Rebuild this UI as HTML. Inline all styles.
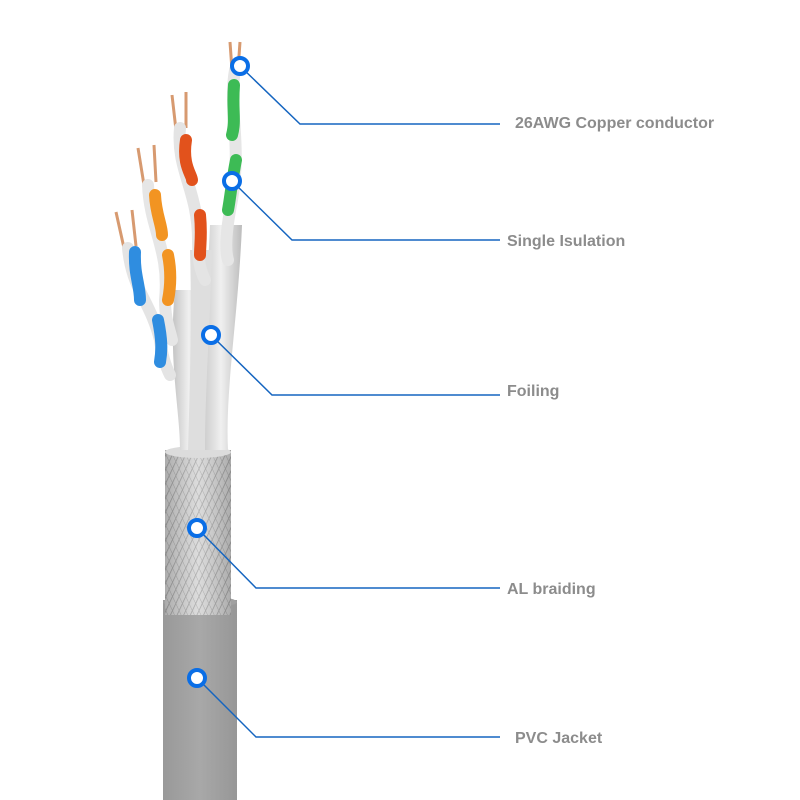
<!DOCTYPE html>
<html><head><meta charset="utf-8"><style>
html,body{margin:0;padding:0;background:#fff;width:800px;height:800px;overflow:hidden}
text{font-family:"Liberation Sans",sans-serif;font-weight:bold;font-size:16px;fill:#8c8c8c}
</style></head><body>
<svg width="800" height="800" viewBox="0 0 800 800" xmlns="http://www.w3.org/2000/svg">
<defs>
<pattern id="br" width="6" height="6" patternUnits="userSpaceOnUse" patternTransform="rotate(25)">
<rect width="6" height="6" fill="#d6d6d6"/><line x1="0" y1="0" x2="0" y2="6" stroke="#9c9c9c" stroke-width="1.5"/></pattern>
<pattern id="br2" width="6" height="6" patternUnits="userSpaceOnUse" patternTransform="rotate(-25)">
<line x1="0" y1="0" x2="0" y2="6" stroke="#a8a8a8" stroke-width="1"/></pattern>
<linearGradient id="jk" x1="0" x2="1"><stop offset="0" stop-color="#999"/><stop offset="0.5" stop-color="#a8a8a8"/><stop offset="1" stop-color="#979797"/></linearGradient>
<linearGradient id="sh" x1="0" x2="1"><stop offset="0" stop-color="#000" stop-opacity="0.2"/><stop offset="0.5" stop-color="#fff" stop-opacity="0.15"/><stop offset="1" stop-color="#000" stop-opacity="0.2"/></linearGradient>
<linearGradient id="fo" x1="0" x2="1"><stop offset="0" stop-color="#c4c4c4"/><stop offset="0.5" stop-color="#f0f0f0"/><stop offset="1" stop-color="#bcbcbc"/></linearGradient>
</defs>
<rect x="163" y="600" width="74" height="200" fill="url(#jk)"/>
<ellipse cx="200" cy="602" rx="37" ry="6" fill="#a0a0a0"/>
<rect x="165" y="450" width="66" height="165" fill="url(#br)"/>
<rect x="165" y="450" width="66" height="165" fill="url(#br2)"/>
<rect x="165" y="450" width="66" height="165" fill="url(#sh)"/>
<ellipse cx="198" cy="452" rx="33" ry="6" fill="#dcdcdc"/>
<path d="M175 290 C168 360,180 410,180 450 L205 450 C205 400,195 350,198 290Z" fill="url(#fo)"/>
<path d="M210 225 L242 225 C238 320,225 390,228 450 L200 450 C200 380,206 320,210 225Z" fill="url(#fo)"/>
<path d="M190 250 L212 250 C210 330,205 390,205 450 L188 450 C190 380,192 320,190 250Z" fill="#dedede"/>
<g stroke="#d79a70" stroke-width="3" fill="none">
<path d="M230 42 L232 70 M240 42 L238 70"/>
<path d="M172 95 L176 130 M186 92 L186 128"/>
<path d="M138 148 L144 185 M154 145 L156 182"/>
<path d="M116 212 L124 248 M132 210 L136 246"/>
</g>
<g fill="none" stroke-linecap="round" stroke-width="12">
<path d="M235 70 C228 110,242 140,232 200 C226 230,225 250,228 260" stroke="#e6e6e6"/>
<path d="M234 85 C232 110,236 120,232 135 M236 160 C232 180,230 200,228 210" stroke="#3dbb55"/>
<path d="M180 128 C176 170,198 190,198 240 C198 260,200 270,205 280" stroke="#e4e4e4"/>
<path d="M186 140 C182 165,192 175,192 180 M200 215 C202 235,200 245,200 255" stroke="#e2521c"/>
<path d="M148 185 C150 230,170 250,165 300 C165 320,170 330,172 340" stroke="#e6e6e6"/>
<path d="M155 195 C156 215,162 225,162 235 M168 255 C172 275,170 290,168 300" stroke="#f29422"/>
<path d="M128 248 C132 290,150 300,160 340 C162 355,165 365,170 375" stroke="#e4e4e4"/>
<path d="M135 252 C134 275,140 285,140 300 M158 320 C162 340,162 350,160 362" stroke="#2f8de0"/>
</g>
<g stroke="#1565c0" stroke-width="1.5" fill="none">
<path d="M240 66 L300 124 L500 124"/>
<path d="M232 181 L292 240 L500 240"/>
<path d="M211 335 L272 395 L500 395"/>
<path d="M197 528 L256 588 L500 588"/>
<path d="M197 678 L256 737 L500 737"/>
</g>
<g fill="#fff" stroke="#0a6ee6" stroke-width="4">
<circle cx="240" cy="66" r="8"/><circle cx="232" cy="181" r="8"/><circle cx="211" cy="335" r="8"/>
<circle cx="197" cy="528" r="8"/><circle cx="197" cy="678" r="8"/>
</g>
<text x="515" y="128">26AWG Copper conductor</text>
<text x="507" y="246">Single Isulation</text>
<text x="507" y="396">Foiling</text>
<text x="507" y="594">AL braiding</text>
<text x="515" y="743">PVC Jacket</text>
</svg>
</body></html>
